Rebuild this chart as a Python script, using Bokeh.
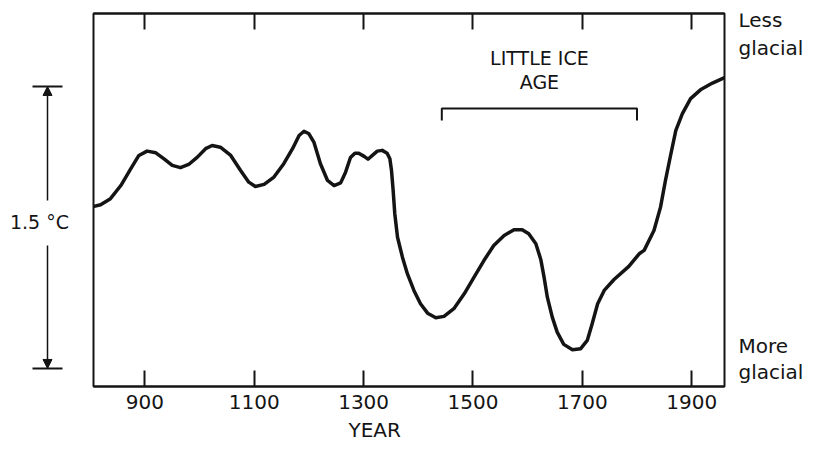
from bokeh.plotting import figure
from bokeh.layouts import row
from bokeh.models import Range1d, LinearAxis, FixedTicker, Arrow, NormalHead, Title
from bokeh.core.properties import value
from bokeh.embed import file_html
from bokeh.resources import INLINE

# ---- data ----
years = [807, 819, 837, 856, 874, 889, 904, 920, 935, 950,
         965, 980, 996, 1011, 1023, 1038, 1057, 1075, 1090, 1102,
         1118, 1136, 1154, 1170, 1182, 1191, 1200, 1209, 1221, 1234,
         1246, 1258, 1267, 1276, 1284, 1291, 1301, 1308, 1316, 1325,
         1334, 1343, 1348, 1351, 1354, 1357, 1362, 1371, 1380, 1392,
         1404, 1417, 1432, 1447, 1465, 1484, 1502, 1520, 1538, 1557,
         1575, 1590, 1602, 1615, 1624, 1630, 1636, 1645, 1654, 1666,
         1682, 1697, 1709, 1718, 1728, 1740, 1758, 1785, 1804, 1813,
         1831, 1843, 1852, 1862, 1871, 1883, 1898, 1916, 1938, 1959]
temps = [0.862, 0.871, 0.903, 0.973, 1.062, 1.133, 1.156, 1.147, 1.115, 1.080,
         1.068, 1.085, 1.124, 1.169, 1.186, 1.177, 1.133, 1.053, 0.991, 0.968,
         0.979, 1.018, 1.089, 1.169, 1.239, 1.262, 1.248, 1.204, 1.089, 1.000,
         0.973, 0.987, 1.044, 1.122, 1.145, 1.145, 1.128, 1.113, 1.133, 1.156,
         1.160, 1.145, 1.115, 1.053, 0.947, 0.823, 0.698, 0.592, 0.504, 0.415,
         0.344, 0.294, 0.270, 0.277, 0.318, 0.397, 0.486, 0.574, 0.654, 0.707,
         0.738, 0.738, 0.716, 0.663, 0.580, 0.486, 0.379, 0.273, 0.193, 0.128,
         0.099, 0.105, 0.149, 0.238, 0.344, 0.415, 0.473, 0.543, 0.610, 0.628,
         0.734, 0.858, 1.000, 1.142, 1.266, 1.355, 1.435, 1.482, 1.518, 1.546]
tick_years = [900, 1100, 1300, 1500, 1700, 1900]
lia_span = [1443, 1800]          # Little Ice Age bracket
scale_bar = [0.0, 1.5]           # 1.5 degC scale bar
scale_label = "1.5 °C"
x_label = "YEAR"
lia_label = ["LITTLE ICE", "AGE"]
upper_label = ["Less", "glacial"]
lower_label = ["More", "glacial"]

INK = "#141414"
FONT = value("DejaVu Sans")
H = 449
TOP, BOTTOM = 13, 63

yr = Range1d(-0.096, 1.888)


def side_fig(w):
    f = figure(width=w, height=H, x_range=Range1d(0, w), y_range=yr,
               x_axis_type=None, y_axis_type=None, toolbar_location=None,
               output_backend="svg", min_border_left=0, min_border_right=0,
               min_border_top=TOP, min_border_bottom=BOTTOM,
               outline_line_color=None)
    return f


# ---- left: scale bar ----
left = side_fig(90)
left.segment(x0=32, x1=62, y0=scale_bar, y1=scale_bar, line_color=INK, line_width=2)
left.add_layout(Arrow(end=NormalHead(size=9, fill_color=INK, line_color=INK),
                      x_start=47, y_start=0.894, x_end=47, y_end=scale_bar[1],
                      line_color=INK, line_width=1.5))
left.add_layout(Arrow(end=NormalHead(size=9, fill_color=INK, line_color=INK),
                      x_start=47, y_start=0.654, x_end=47, y_end=scale_bar[0],
                      line_color=INK, line_width=1.5))
left.text(x=[39], y=[0.777], text=[scale_label], text_align="center",
          text_baseline="middle", text_font=FONT, text_font_size=value("19px"),
          text_color=INK)

# ---- main plot ----
main = figure(width=636, height=H, x_range=Range1d(806, 1960), y_range=yr,
              x_axis_type=None, y_axis_type=None, toolbar_location=None,
              output_backend="svg", min_border_left=3, min_border_right=2,
              min_border_top=TOP, min_border_bottom=BOTTOM,
              outline_line_color=INK, outline_line_width=2)

bottom_ax = LinearAxis(ticker=FixedTicker(ticks=tick_years))
top_ax = LinearAxis(ticker=FixedTicker(ticks=tick_years))
for ax in (bottom_ax, top_ax):
    ax.axis_line_color = INK
    ax.axis_line_width = 2
    ax.major_tick_line_color = INK
    ax.major_tick_line_width = 2
    ax.major_tick_out = 0
    ax.major_tick_in = 16
    ax.minor_tick_line_color = None
top_ax.major_label_text_font_size = "1px"
top_ax.major_label_text_alpha = 0
top_ax.major_label_standoff = 0
bottom_ax.major_label_standoff = 8
bottom_ax.major_label_text_font = "DejaVu Sans"
bottom_ax.major_label_text_font_size = "20px"
bottom_ax.major_label_text_color = INK
main.add_layout(bottom_ax, "below")
main.add_layout(top_ax, "above")
main.add_layout(Title(text=x_label, align="left", offset=255, standoff=8,
                      text_font="DejaVu Sans", text_font_size="20px",
                      text_font_style="normal", text_color=INK), "below")
main.xgrid.visible = False
main.ygrid.visible = False

main.line(years, temps, line_color=INK, line_width=3.5, line_join="round",
          line_cap="round")

# Little Ice Age bracket and label
main.line(x=[lia_span[0], lia_span[0], lia_span[1], lia_span[1]],
          y=[1.319, 1.383, 1.383, 1.319], line_color=INK, line_width=2)
lia_mid = (lia_span[0] + lia_span[1]) / 2
main.text(x=[lia_mid, lia_mid], y=[1.649, 1.521], text=lia_label,
          text_align="center", text_baseline="middle", text_font=FONT,
          text_font_size=value("19px"), text_color=INK)

# ---- right: labels ----
right = side_fig(92)
right.text(x=[12, 12], y=[1.851, 1.702], text=upper_label, text_align="left",
           text_baseline="middle", text_font=FONT, text_font_size=value("20px"),
           text_color=INK)
right.text(x=[12, 12], y=[0.122, -0.021], text=lower_label, text_align="left",
           text_baseline="middle", text_font=FONT, text_font_size=value("20px"),
           text_color=INK)

layout = row(left, main, right)
open("out.html", "w").write(file_html(layout, INLINE))
